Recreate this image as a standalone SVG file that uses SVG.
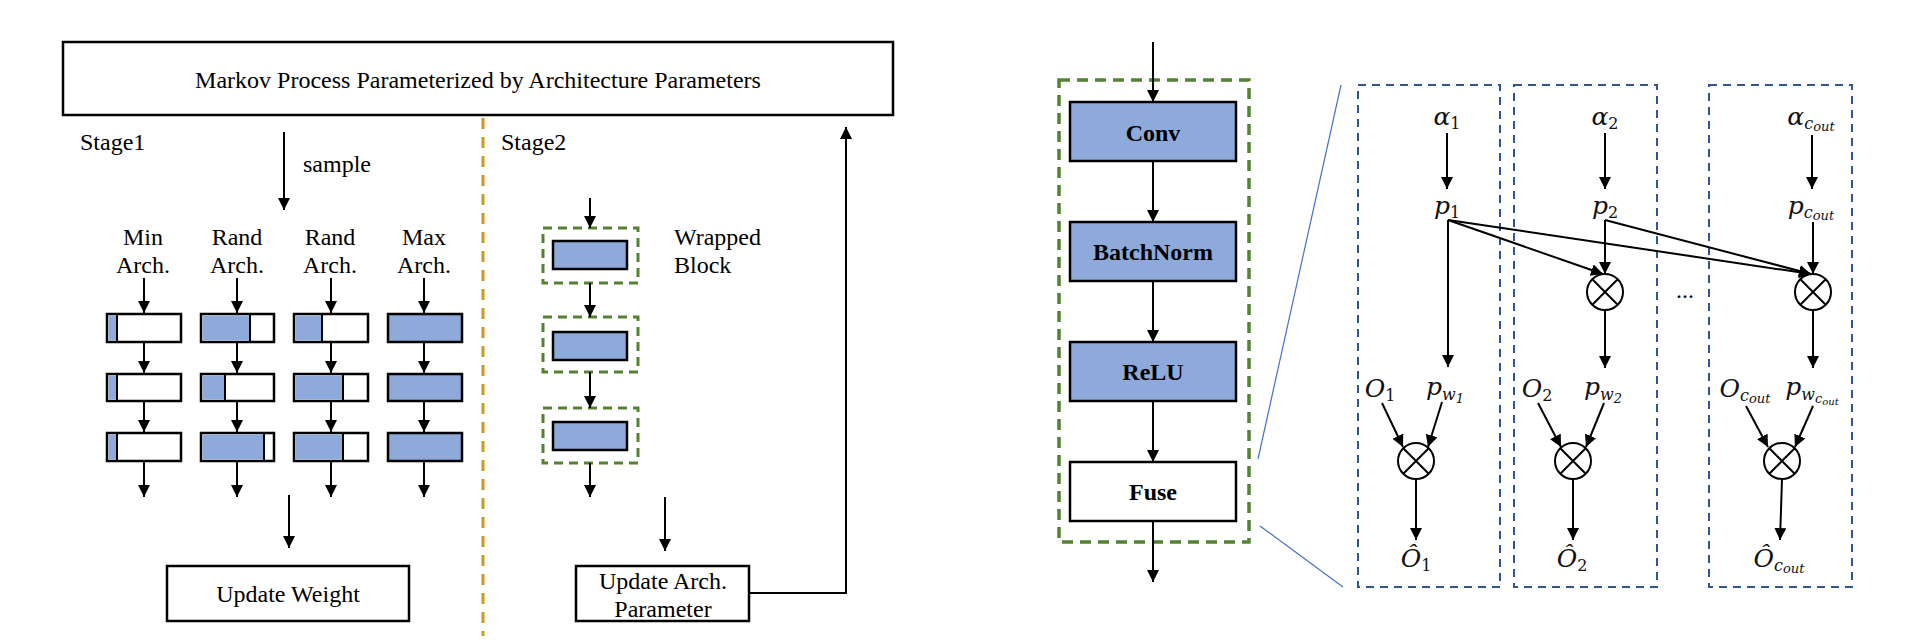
<svg xmlns="http://www.w3.org/2000/svg" width="1920" height="644" viewBox="0 0 1920 644">
<style>
.t{font-family:"Liberation Serif","Times New Roman",serif;font-size:24px;fill:#000}
.b{font-family:"Liberation Serif","Times New Roman",serif;font-size:24px;font-weight:bold;fill:#000;text-anchor:middle}
.m{font-family:"DejaVu Serif","Liberation Serif",serif;font-size:25px;font-style:italic;fill:#111;text-anchor:middle}
.s{font-size:16px;font-style:normal}
.si{font-size:16px;font-style:italic}
.ss{font-size:13px;font-style:italic}
.box{fill:#fff;stroke:#000;stroke-width:2.5}
.blk{fill:#fff;stroke:#000;stroke-width:2.5}
.fill{fill:#8EAADB}
.bl{fill:#8EAADB;stroke:#000;stroke-width:2.5}
.ln{stroke:#000;stroke-width:2;fill:none}
.ar{stroke:#000;stroke-width:2;fill:none;marker-end:url(#ah)}
.gd{fill:none;stroke:#548235;stroke-width:3;stroke-dasharray:9 6}
.gd2{fill:none;stroke:#548235;stroke-width:3.5;stroke-dasharray:11 7}
.bd{fill:none;stroke:#2F5597;stroke-width:2;stroke-dasharray:8 6}
.od{fill:none;stroke:#CC9A1E;stroke-width:3;stroke-dasharray:11 8}
.zl{stroke:#4472C4;stroke-width:1.2;fill:none}
.cx{fill:#fff;stroke:#000;stroke-width:2}
</style>
<defs>
<marker id="ah" viewBox="0 0 12 12" refX="12" refY="6" markerWidth="12" markerHeight="12" markerUnits="userSpaceOnUse" orient="auto">
<path d="M0,0 L12,6 L0,12 z" fill="#000"/>
</marker>
</defs>
<rect width="1920" height="644" fill="#fff"/>

<g id="markov">
<rect class="box" x="63" y="42" width="830" height="73"/>
<text class="t" x="478" y="88" text-anchor="middle">Markov Process Parameterized by Architecture Parameters</text>
</g>

<g id="divider"><line class="od" x1="483" y1="118" x2="483" y2="636"/></g>

<g id="labels-stage1">
<text class="t" x="80" y="150">Stage1</text>
<text class="t" x="303" y="172">sample</text>
<text class="t" x="143" y="245" text-anchor="middle">Min</text>
<text class="t" x="143" y="273" text-anchor="middle">Arch.</text>
<text class="t" x="237" y="245" text-anchor="middle">Rand</text>
<text class="t" x="237" y="273" text-anchor="middle">Arch.</text>
<text class="t" x="330" y="245" text-anchor="middle">Rand</text>
<text class="t" x="330" y="273" text-anchor="middle">Arch.</text>
<text class="t" x="424" y="245" text-anchor="middle">Max</text>
<text class="t" x="424" y="273" text-anchor="middle">Arch.</text>
</g>

<g id="arch-min">
<rect class="blk" x="107" y="314" width="74" height="28"/><rect class="fill" x="108.5" y="315.5" width="8.5" height="25"/><line class="ln" x1="117" y1="314" x2="117" y2="342"/>
<rect class="blk" x="107" y="374" width="74" height="27"/><rect class="fill" x="108.5" y="375.5" width="8.5" height="24"/><line class="ln" x1="117" y1="374" x2="117" y2="401"/>
<rect class="blk" x="107" y="433" width="74" height="28"/><rect class="fill" x="108.5" y="434.5" width="8.5" height="25"/><line class="ln" x1="117" y1="433" x2="117" y2="461"/>
</g>
<g id="arch-rand1">
<rect class="blk" x="201" y="314" width="73" height="28"/><rect class="fill" x="202.5" y="315.5" width="47.5" height="25"/><line class="ln" x1="250" y1="314" x2="250" y2="342"/>
<rect class="blk" x="201" y="374" width="73" height="27"/><rect class="fill" x="202.5" y="375.5" width="22.5" height="24"/><line class="ln" x1="225" y1="374" x2="225" y2="401"/>
<rect class="blk" x="201" y="433" width="73" height="28"/><rect class="fill" x="202.5" y="434.5" width="61.5" height="25"/><line class="ln" x1="264" y1="433" x2="264" y2="461"/>
</g>
<g id="arch-rand2">
<rect class="blk" x="294" y="314" width="74" height="28"/><rect class="fill" x="295.5" y="315.5" width="26.5" height="25"/><line class="ln" x1="322" y1="314" x2="322" y2="342"/>
<rect class="blk" x="294" y="374" width="74" height="27"/><rect class="fill" x="295.5" y="375.5" width="47.5" height="24"/><line class="ln" x1="343" y1="374" x2="343" y2="401"/>
<rect class="blk" x="294" y="433" width="74" height="28"/><rect class="fill" x="295.5" y="434.5" width="47.5" height="25"/><line class="ln" x1="343" y1="433" x2="343" y2="461"/>
</g>
<g id="arch-max">
<rect class="bl" x="388" y="314" width="74" height="28"/>
<rect class="bl" x="388" y="374" width="74" height="27"/>
<rect class="bl" x="388" y="433" width="74" height="28"/>
</g>

<g id="update-weight">
<rect class="box" x="167" y="566" width="242" height="55"/>
<text class="t" x="288" y="602" text-anchor="middle">Update Weight</text>
</g>

<g id="labels-stage2">
<text class="t" x="501" y="150">Stage2</text>
<text class="t" x="674" y="245">Wrapped</text>
<text class="t" x="674" y="273">Block</text>
</g>

<g id="wrapped-blocks">
<rect class="gd" x="543" y="228" width="95" height="55"/><rect class="bl" x="553" y="241" width="74" height="28"/>
<rect class="gd" x="543" y="317" width="95" height="55"/><rect class="bl" x="553" y="332" width="74" height="28"/>
<rect class="gd" x="543" y="408" width="95" height="55"/><rect class="bl" x="553" y="422" width="74" height="28"/>
</g>

<g id="update-arch">
<rect class="box" x="576" y="566" width="173" height="55"/>
<text class="t" x="663" y="589" text-anchor="middle">Update Arch.</text>
<text class="t" x="663" y="617" text-anchor="middle">Parameter</text>
</g>

<g id="layer">
<rect class="gd2" x="1059" y="80" width="190" height="462"/>
<rect class="bl" x="1070" y="102" width="166" height="59"/><text class="b" x="1153" y="141">Conv</text>
<rect class="bl" x="1070" y="222" width="166" height="59"/><text class="b" x="1153" y="260">BatchNorm</text>
<rect class="bl" x="1070" y="342" width="166" height="59"/><text class="b" x="1153" y="380">ReLU</text>
<rect class="blk" x="1070" y="462" width="166" height="59"/><text class="b" x="1153" y="500">Fuse</text>
</g>

<g id="zoom-lines">
<line class="zl" x1="1341" y1="85" x2="1258" y2="459"/>
<line class="zl" x1="1260" y1="526" x2="1343" y2="587"/>
</g>

<g id="channel1">
<rect class="bd" x="1358" y="85" width="142" height="502"/>
<text class="m" x="1447" y="125">α<tspan class="s" dy="4">1</tspan></text>
<text class="m" x="1447" y="214">p<tspan class="s" dy="4">1</tspan></text>
<text class="m" x="1380" y="397">O<tspan class="s" dy="4">1</tspan></text>
<text class="m" x="1445" y="395">p<tspan class="si" dy="5">w</tspan><tspan class="ss" dy="3">1</tspan></text>
<circle class="cx" cx="1416" cy="461" r="18"/>
<path class="ln" d="M1403.3,448.3 L1428.7,473.7 M1428.7,448.3 L1403.3,473.7"/>
<text class="m" x="1416" y="567">Ô<tspan class="s" dy="4">1</tspan></text>
</g>

<g id="channel2">
<rect class="bd" x="1514" y="85" width="143" height="502"/>
<text class="m" x="1605" y="125">α<tspan class="s" dy="4">2</tspan></text>
<text class="m" x="1605" y="214">p<tspan class="s" dy="4">2</tspan></text>
<circle class="cx" cx="1605" cy="292" r="18"/>
<path class="ln" d="M1592.3,279.3 L1617.7,304.7 M1617.7,279.3 L1592.3,304.7"/>
<text class="m" x="1537" y="397">O<tspan class="s" dy="4">2</tspan></text>
<text class="m" x="1603" y="395">p<tspan class="si" dy="5">w</tspan><tspan class="ss" dy="3">2</tspan></text>
<circle class="cx" cx="1573" cy="461" r="18"/>
<path class="ln" d="M1560.3,448.3 L1585.7,473.7 M1585.7,448.3 L1560.3,473.7"/>
<text class="m" x="1572" y="567">Ô<tspan class="s" dy="4">2</tspan></text>
</g>

<g id="ellipsis"><text class="t" x="1685" y="298" text-anchor="middle">...</text></g>

<g id="channel-cout">
<rect class="bd" x="1709" y="85" width="143" height="502"/>
<text class="m" x="1811" y="125">α<tspan class="si" dy="4">c</tspan><tspan class="ss" dy="2">out</tspan></text>
<text class="m" x="1811" y="214">p<tspan class="si" dy="4">c</tspan><tspan class="ss" dy="2">out</tspan></text>
<circle class="cx" cx="1813" cy="292" r="18"/>
<path class="ln" d="M1800.3,279.3 L1825.7,304.7 M1825.7,279.3 L1800.3,304.7"/>
<text class="m" x="1745" y="397">O<tspan class="si" dy="4">c</tspan><tspan class="ss" dy="2">out</tspan></text>
<text class="m" x="1812" y="395">p<tspan class="si" dy="5">w</tspan><tspan class="ss" dy="3">c</tspan><tspan style="font-size:10px" dy="2">out</tspan></text>
<circle class="cx" cx="1782" cy="461" r="18"/>
<path class="ln" d="M1769.3,448.3 L1794.7,473.7 M1794.7,448.3 L1769.3,473.7"/>
<text class="m" x="1779" y="567">Ô<tspan class="si" dy="4">c</tspan><tspan class="ss" dy="2">out</tspan></text>
</g>

<g id="connectors">
<line class="ar" x1="284" y1="132" x2="284" y2="210"/>
<line class="ar" x1="144" y1="278" x2="144" y2="313"/>
<line class="ar" x1="237" y1="278" x2="237" y2="313"/>
<line class="ar" x1="331" y1="278" x2="331" y2="313"/>
<line class="ar" x1="424" y1="278" x2="424" y2="313"/>
<line class="ar" x1="144" y1="342" x2="144" y2="373"/>
<line class="ar" x1="237" y1="342" x2="237" y2="373"/>
<line class="ar" x1="331" y1="342" x2="331" y2="373"/>
<line class="ar" x1="424" y1="342" x2="424" y2="373"/>
<line class="ar" x1="144" y1="401" x2="144" y2="432"/>
<line class="ar" x1="237" y1="401" x2="237" y2="432"/>
<line class="ar" x1="331" y1="401" x2="331" y2="432"/>
<line class="ar" x1="424" y1="401" x2="424" y2="432"/>
<line class="ar" x1="144" y1="461" x2="144" y2="497"/>
<line class="ar" x1="237" y1="461" x2="237" y2="497"/>
<line class="ar" x1="331" y1="461" x2="331" y2="497"/>
<line class="ar" x1="424" y1="461" x2="424" y2="497"/>
<line class="ar" x1="289" y1="495" x2="289" y2="548"/>

<line class="ar" x1="590" y1="198" x2="590" y2="228"/>
<line class="ar" x1="590" y1="283" x2="590" y2="317"/>
<line class="ar" x1="590" y1="372" x2="590" y2="408"/>
<line class="ar" x1="590" y1="463" x2="590" y2="497"/>
<line class="ar" x1="665" y1="497" x2="665" y2="551"/>
<polyline class="ar" points="749,593 846,593 846,127"/>

<line class="ar" x1="1153" y1="42" x2="1153" y2="102"/>
<line class="ar" x1="1153" y1="161" x2="1153" y2="222"/>
<line class="ar" x1="1153" y1="281" x2="1153" y2="342"/>
<line class="ar" x1="1153" y1="401" x2="1153" y2="462"/>
<line class="ar" x1="1153" y1="521" x2="1153" y2="582"/>

<line class="ar" x1="1447" y1="133" x2="1447" y2="189"/>
<line class="ar" x1="1605" y1="133" x2="1605" y2="189"/>
<line class="ar" x1="1812" y1="135" x2="1812" y2="189"/>
<line class="ar" x1="1448" y1="220" x2="1448" y2="367"/>
<line class="ar" x1="1448" y1="220" x2="1603" y2="274"/>
<line class="ar" x1="1448" y1="220" x2="1811" y2="274"/>
<line class="ar" x1="1605" y1="220" x2="1605" y2="274"/>
<line class="ar" x1="1605" y1="220" x2="1811" y2="274"/>
<line class="ar" x1="1813" y1="222" x2="1813" y2="274"/>
<line class="ar" x1="1605" y1="310" x2="1605" y2="368"/>
<line class="ar" x1="1813" y1="310" x2="1813" y2="368"/>

<line class="ar" x1="1382" y1="403" x2="1403" y2="447"/>
<line class="ar" x1="1442" y1="402" x2="1428" y2="447"/>
<line class="ar" x1="1538" y1="403" x2="1561" y2="447"/>
<line class="ar" x1="1604" y1="403" x2="1586" y2="447"/>
<line class="ar" x1="1746" y1="406" x2="1768" y2="447"/>
<line class="ar" x1="1813" y1="406" x2="1795" y2="447"/>
<line class="ar" x1="1416" y1="479" x2="1416" y2="540"/>
<line class="ar" x1="1573" y1="479" x2="1573" y2="540"/>
<line class="ar" x1="1782" y1="479" x2="1780" y2="540"/>
</g>
</svg>
